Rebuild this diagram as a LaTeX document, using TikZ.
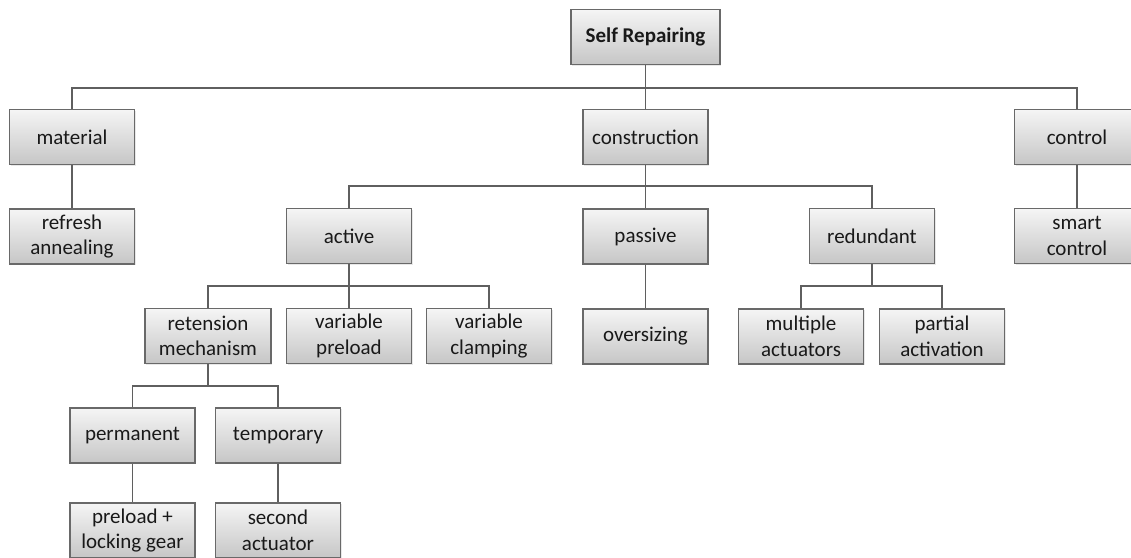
\documentclass[tikz,border=0pt]{standalone}
\usepackage{fontspec}
\setmainfont{Carlito}
\usetikzlibrary{shadows}
\definecolor{boxline}{RGB}{105,105,105}
\definecolor{linkline}{RGB}{95,95,95}
\definecolor{boxtop}{RGB}{245,245,245}
\definecolor{boxbot}{RGB}{198,198,198}
\definecolor{txt}{RGB}{25,25,25}
\tikzset{
  box/.style={draw=boxline, line width=1.2pt, top color=boxtop, bottom color=boxbot,
    minimum width=125pt, minimum height=55pt, inner sep=0pt, align=center,
    text=txt, font=\fontsize{21}{25.5}\selectfont,
    drop shadow={opacity=0.18, shadow xshift=1.2pt, shadow yshift=-1.2pt}},
  link/.style={draw=linkline, line width=1.3pt}
}
\begin{document}
\begin{tikzpicture}[x=1pt,y=-1pt]
\useasboundingbox (0,0) rectangle (1131,557);
\clip (0,0) rectangle (1131,557);
% level 0
\node[box, minimum width=149pt, font=\fontsize{21}{25.5}\selectfont\bfseries] (root) at (645.5,37) {Self Repairing};
% level 1
\node[box] (mat) at (72,137) {material};
\node[box] (con) at (645.5,137) {construction};
\node[box] (ctl) at (1077,137) {control};
% level 2
\node[box] (ref) at (72,236.5) {refresh\\annealing};
\node[box] (act) at (349,236) {active};
\node[box] (pas) at (645.5,236.5) {passive};
\node[box] (red) at (872,236) {redundant};
\node[box] (sma) at (1077,236) {smart\\control};
% level 3
\node[box, minimum width=126pt] (ret) at (208,336) {retension\\mechanism};
\node[box] (vpr) at (349,336) {variable\\preload};
\node[box] (vcl) at (489,336) {variable\\clamping};
\node[box] (ovs) at (645.5,336.5) {oversizing};
\node[box] (mul) at (801,336.5) {multiple\\actuators};
\node[box] (par) at (942,336.5) {partial\\activation};
% level 4
\node[box] (per) at (132.5,435.5) {permanent};
\node[box] (tem) at (278,435.5) {temporary};
% level 5
\node[box] (pre) at (132.5,530.5) {preload +\\locking gear};
\node[box] (sec) at (278,530.5) {second\\actuator};
% bus coordinates
\coordinate (b0) at (645.5,88);
\coordinate (b1) at (645.5,186);
\coordinate (b2) at (349,286);
\coordinate (b3) at (872,286);
\coordinate (b4) at (208,386);
% connectors
\draw[link] (root.south) -- (b0) -- (con.north);
\draw[link] (b0) -| (mat.north);
\draw[link] (b0) -| (ctl.north);
\draw[link] (mat.south) -- (ref.north);
\draw[link] (ctl.south) -- (sma.north);
\draw[link] (con.south) -- (b1) -- (pas.north);
\draw[link] (b1) -| (act.north);
\draw[link] (b1) -| (red.north);
\draw[link] (pas.south) -- (ovs.north);
\draw[link] (act.south) -- (b2) -- (vpr.north);
\draw[link] (b2) -| (ret.north);
\draw[link] (b2) -| (vcl.north);
\draw[link] (red.south) -- (b3);
\draw[link] (b3) -| (mul.north);
\draw[link] (b3) -| (par.north);
\draw[link] (ret.south) -- (b4);
\draw[link] (b4) -| (per.north);
\draw[link] (b4) -| (tem.north);
\draw[link] (per.south) -- (pre.north);
\draw[link] (tem.south) -- (sec.north);
\end{tikzpicture}
\end{document}
